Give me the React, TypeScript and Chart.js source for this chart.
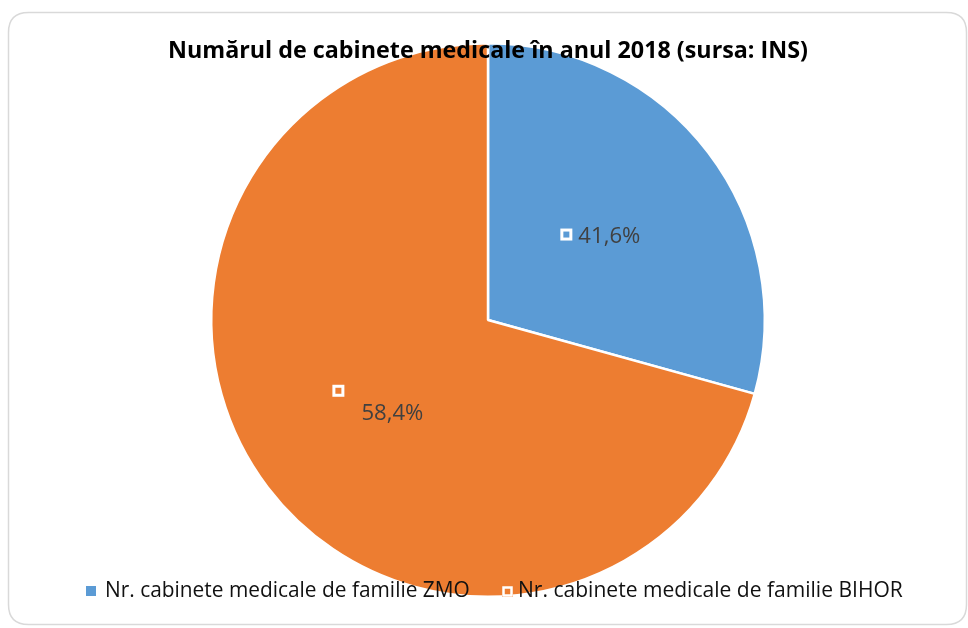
import React, { useEffect, useRef } from "react";
import { Chart, registerables } from "chart.js";

Chart.register(...registerables);

const categories = [
  "Nr. cabinete medicale de familie ZMO",
  "Nr. cabinete medicale de familie BIHOR",
];
const sliceValues = [29.3, 70.7];
const labelTexts = ["41,6%", "58,4%"];
const colors = ["#5B9BD5", "#ED7D31"];
const title = "Numărul de cabinete medicale în anul 2018 (sursa: INS)";

const FONT = "'Open Sans', sans-serif";

function fit(ctx: any, text: string, weight: string, target: number) {
  ctx.font = `${weight} 20px ${FONT}`;
  const w = ctx.measureText(text).width;
  const size = (20 * target) / w;
  ctx.font = `${weight} ${size.toFixed(2)}px ${FONT}`;
}

const overlay = {
  id: "overlay",
  afterDraw(chart: any) {
    const ctx = chart.ctx;
    const meta = chart.getDatasetMeta(0);
    ctx.save();
    // data labels
    meta.data.forEach((arc: any, i: number) => {
      const { x, y, startAngle, endAngle, outerRadius } = arc.getProps(
        ["x", "y", "startAngle", "endAngle", "outerRadius"],
        true
      );
      const mid = (startAngle + endAngle) / 2;
      const r = outerRadius * (i === 0 ? 0.51 : 0.5);
      const cx = x + Math.cos(mid) * r;
      const cy = y + Math.sin(mid) * r;
      fit(ctx, labelTexts[i], "normal", 62);
      const tw = ctx.measureText(labelTexts[i]).width;
      ctx.fillStyle = "#404040";
      ctx.textBaseline = "middle";
      ctx.textAlign = "left";
      ctx.strokeStyle = "#ffffff";
      ctx.lineWidth = 3;
      if (i === 0) {
        const left = cx - (18 + tw) / 2;
        ctx.strokeRect(left + 1.5, cy - 6 + 1.5, 9, 9);
        ctx.fillText(labelTexts[i], left + 18, cy + 2);
      } else {
        const left = cx - (29 + tw) / 2;
        const top = cy - 19;
        ctx.strokeRect(left + 1.5, top + 1.5, 9, 9);
        ctx.fillText(labelTexts[i], left + 29, top + 29);
      }
    });
    // title
    fit(ctx, title, "bold", 640);
    ctx.fillStyle = "#000000";
    ctx.textAlign = "left";
    ctx.textBaseline = "middle";
    ctx.fillText(title, 168, 51);
    // legend
    ctx.textAlign = "left";
    const ly = 591;
    fit(ctx, categories[0], "normal", 365);
    ctx.fillStyle = colors[0];
    ctx.fillRect(86, ly - 5, 10, 10);
    ctx.fillStyle = "#111111";
    ctx.fillText(categories[0], 105, ly);
    ctx.fillStyle = colors[1];
    ctx.fillRect(502, ly - 5, 11, 11);
    ctx.strokeStyle = "#ffffff";
    ctx.lineWidth = 2.5;
    ctx.strokeRect(503.5, ly - 3.5, 8, 8);
    ctx.fillStyle = "#111111";
    fit(ctx, categories[1], "normal", 385);
    ctx.fillText(categories[1], 518, ly);
    // border
    ctx.strokeStyle = "#d9d9d9";
    ctx.lineWidth = 1.5;
    const bx = 8.5, by = 12.5, bw = 958, bh = 612, rr = 20;
    ctx.beginPath();
    ctx.moveTo(bx + rr, by);
    ctx.lineTo(bx + bw - rr, by);
    ctx.quadraticCurveTo(bx + bw, by, bx + bw, by + rr);
    ctx.lineTo(bx + bw, by + bh - rr);
    ctx.quadraticCurveTo(bx + bw, by + bh, bx + bw - rr, by + bh);
    ctx.lineTo(bx + rr, by + bh);
    ctx.quadraticCurveTo(bx, by + bh, bx, by + bh - rr);
    ctx.lineTo(bx, by + rr);
    ctx.quadraticCurveTo(bx, by, bx + rr, by);
    ctx.stroke();
    ctx.restore();
  },
};

export default function App() {
  const ref = useRef<HTMLCanvasElement>(null);
  useEffect(() => {
    if (!ref.current) return;
    const chart = new Chart(ref.current, {
      type: "pie",
      data: {
        labels: categories,
        datasets: [
          {
            data: sliceValues,
            backgroundColor: colors,
            borderColor: "#ffffff",
            borderWidth: 2.5,
          },
        ],
      },
      options: {
        animation: false,
        responsive: false,
        layout: { padding: { top: 42, bottom: 30, left: 8, right: 0 } },
        plugins: {
          legend: { display: false },
          title: { display: false },
          tooltip: { enabled: false },
        },
      },
      plugins: [overlay],
    });
    return () => chart.destroy();
  }, []);
  return (
    <div style={{ position: "fixed", left: 0, top: 0, width: 968, height: 628, background: "#fff" }}>
      <canvas ref={ref} width={968} height={628} style={{ width: 968, height: 628 }} />
    </div>
  );
}
